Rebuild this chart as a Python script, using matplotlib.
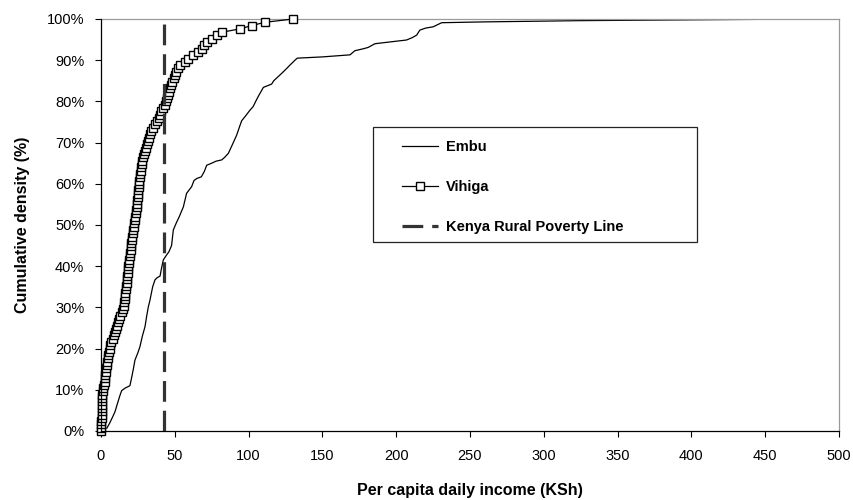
import matplotlib
matplotlib.use("Agg")
import matplotlib.pyplot as plt
from matplotlib.patches import Rectangle
from matplotlib.ticker import FuncFormatter

plt.rcParams['font.family'] = ['Liberation Sans', 'DejaVu Sans']

# ---- data ----
embu_income = [4, 6, 8, 9.5, 11, 12.9, 14, 16.3, 19.6, 20.5, 21.9, 23, 25, 26.4, 28, 29.8,
               31, 32, 33.2, 35, 36.6, 38, 40, 41, 42.2, 44, 46, 47.8, 49, 51, 53, 55.8,
               58, 61.4, 63, 65, 68, 70, 71.6, 75, 78, 81.8, 84, 86.3, 89, 91.9, 94, 95.3,
               98, 101, 103, 105.5, 107, 110, 115.6, 117, 120, 123, 125.8, 128, 131.4, 133,
               150, 168.7, 172, 178, 181, 185.6, 195, 207, 211, 213.9, 216, 220, 225, 230.8,
               260, 324.5, 400, 481]
embu_pct = [0.7, 2, 3.5, 4.7, 6.5, 8.7, 9.8, 10.4, 11, 12.5, 15, 17.2, 19, 20.5, 23, 25.3,
            28, 30, 31.8, 35, 36.7, 37.2, 37.6, 39.5, 41.5, 42.5, 43.5, 45, 48.8, 50.5, 52, 54.4,
            57.7, 59.3, 60.8, 61.3, 61.7, 63, 64.5, 65, 65.5, 65.8, 66.5, 67.4, 69.5, 71.8, 74, 75.3,
            76.5, 77.9, 78.7, 80.5, 81.5, 83.4, 84.2, 85, 86, 87, 88, 88.8, 90, 90.5,
            90.8, 91.3, 92.3, 92.8, 93.1, 94, 94.4, 94.9, 95.5, 96.1, 97.3, 97.8, 98.1, 99.1,
            99.3, 99.6, 99.8, 100]

vihiga_income = [0.0, 0.1, 0.2, 0.3, 0.4, 0.4, 0.5, 0.5, 0.6, 0.6,
                 0.7, 0.9, 1.1, 1.4, 1.9, 2.4, 2.8, 3.0, 3.3, 3.6,
                 3.9, 4.3, 4.6, 4.9, 5.2, 5.8, 6.4, 7.1, 7.8, 8.6,
                 9.3, 9.9, 10.6, 11.3, 12.0, 12.9, 14.0, 15.0, 15.4, 15.7,
                 16.0, 16.2, 16.4, 16.7, 17.0, 17.3, 17.5, 17.8, 18.1, 18.3,
                 18.6, 18.9, 19.2, 19.4, 19.7, 20.0, 20.3, 20.5, 20.8, 21.2,
                 21.5, 21.8, 22.2, 22.5, 22.9, 23.2, 23.5, 23.9, 24.2, 24.5,
                 24.7, 24.9, 25.1, 25.3, 25.5, 25.7, 25.9, 26.1, 26.4, 26.8,
                 27.3, 27.7, 28.1, 28.6, 29.1, 29.6, 30.3, 31.0, 31.7, 32.4,
                 33.0, 33.8, 35.0, 36.5, 38.0, 39.0, 40.0, 40.7, 41.8, 43.3,
                 44.2, 45.0, 45.5, 46.3, 47.0, 47.6, 48.4, 49.2, 50.0, 50.8,
                 52.0, 53.6, 56.9, 59.0, 62.5, 66.0, 68.2, 70.0, 72.0, 75.0,
                 78.5, 82.0, 94.2, 102.0, 111.0, 130.3]
vihiga_pct = [0.0, 0.8, 1.6, 2.4, 3.2, 4.0, 4.8, 5.6, 6.4, 7.2,
              8.0, 8.8, 9.6, 10.4, 11.2, 12.0, 12.8, 13.6, 14.4, 15.2,
              16.0, 16.8, 17.6, 18.4, 19.2, 20.0, 20.8, 21.6, 22.4, 23.2,
              24.0, 24.8, 25.6, 26.4, 27.2, 28.0, 28.8, 29.6, 30.4, 31.2,
              32.0, 32.8, 33.6, 34.4, 35.2, 36.0, 36.8, 37.6, 38.4, 39.2,
              40.0, 40.8, 41.6, 42.4, 43.2, 44.0, 44.8, 45.6, 46.4, 47.2,
              48.0, 48.8, 49.6, 50.4, 51.2, 52.0, 52.8, 53.6, 54.4, 55.2,
              56.0, 56.8, 57.6, 58.4, 59.2, 60.0, 60.8, 61.6, 62.4, 63.2,
              64.0, 64.8, 65.6, 66.4, 67.2, 68.0, 68.8, 69.6, 70.4, 71.2,
              72.0, 72.8, 73.6, 74.4, 75.2, 76.0, 76.8, 77.6, 78.4, 79.2,
              80.0, 80.8, 81.6, 82.4, 83.2, 84.0, 84.8, 85.6, 86.4, 87.2,
              88.0, 88.8, 89.6, 90.4, 91.2, 92.0, 92.8, 93.6, 94.4, 95.2,
              96.0, 96.8, 97.6, 98.4, 99.2, 100.0]

poverty_line = 43
x_ticks = [0, 50, 100, 150, 200, 250, 300, 350, 400, 450, 500]
y_ticks = [0, 10, 20, 30, 40, 50, 60, 70, 80, 90, 100]

# ---- figure ----
fig = plt.figure(figsize=(8.54, 5.0), dpi=100)
ax = fig.add_axes([101/854, 1-431/500, 738/854, 412/500])

l_embu, = ax.plot(embu_income, embu_pct, color='black', lw=0.9, label='Embu')
l_vih, = ax.plot(vihiga_income, vihiga_pct, color='black', lw=0.9, marker='s',
                 markersize=5.2, markerfacecolor='white', markeredgecolor='black',
                 markeredgewidth=1.0, label='Vihiga', clip_on=False, zorder=3)
l_pov, = ax.plot([poverty_line, poverty_line], [0, 100], color='#333333', lw=2.3,
                 dashes=(6.5, 2.8), label='Kenya Rural Poverty Line', zorder=4)

ax.set_xlim(0, 500)
ax.set_ylim(0, 100)
ax.set_xticks(x_ticks)
ax.set_yticks(y_ticks)
ax.yaxis.set_major_formatter(FuncFormatter(lambda v, p: f"{int(v)}%"))
ax.tick_params(direction='out', length=4, width=0.8, labelsize=10.5, colors='black')
ax.tick_params(axis='x', pad=9)
ax.tick_params(axis='y', pad=8)

for s in ['left', 'bottom']:
    ax.spines[s].set_color('black')
    ax.spines[s].set_linewidth(0.9)
    ax.spines[s].set_zorder(5)
for s in ['top', 'right']:
    ax.spines[s].set_color('#9a9a9a')
    ax.spines[s].set_linewidth(0.9)

ax.set_xlabel('Per capita daily income (KSh)', fontsize=11.5, fontweight='bold', labelpad=14)
ax.set_ylabel('Cumulative density (%)', fontsize=11.5, fontweight='bold', labelpad=12)

# legend frame
x0 = (373-101)/738; y0 = (431-242)/412
w = (697-373)/738; h = (242-127)/412
ax.add_patch(Rectangle((x0, y0), w, h, transform=ax.transAxes, facecolor='white',
                       edgecolor='#222222', lw=0.9, zorder=5))
leg = ax.legend(handles=[l_embu, l_vih, l_pov], loc='upper left',
                bbox_to_anchor=((402-101)/738 - 0.016, (431-128)/412),
                frameon=False, numpoints=1, handlelength=2.45, handletextpad=0.55,
                labelspacing=1.8, borderpad=0.3,
                prop={'weight': 'bold', 'size': 10.5})
leg.set_zorder(6)

fig.savefig('out.png', dpi=100)
